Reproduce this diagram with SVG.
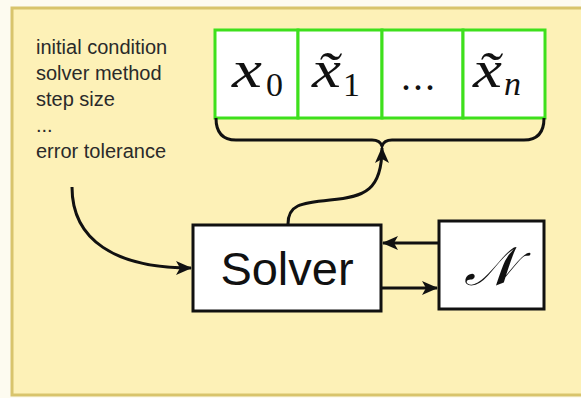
<svg xmlns="http://www.w3.org/2000/svg" width="581" height="398" viewBox="0 0 581 398">
<style>
.bg{fill:#fdf1b7;stroke:#d8c46c;stroke-width:3}
.box{fill:#ffffff;stroke:#111;stroke-width:3}
.cell{fill:#ffffff;stroke:#3ee01c;stroke-width:3}
.lbl{font-family:"Liberation Sans",Arial,sans-serif;font-size:20px;fill:#2a2a2a}
.math{font-family:"Liberation Serif","Times New Roman",serif;fill:#111}
.mx{font-size:52px;font-style:italic}
.sub{font-size:34px}
.conn{fill:none;stroke:#111;stroke-width:3}
</style>
<defs>
<marker id="ah" viewBox="0 0 16 14" refX="15" refY="7" markerWidth="16" markerHeight="14" markerUnits="userSpaceOnUse" orient="auto">
<path d="M0,0 L16,7 L0,14 L4,7 Z" fill="#111"/>
</marker>
</defs>
<rect width="581" height="398" fill="#fdfbf0"/>
<rect class="bg" x="12" y="8" width="590" height="387"/>
<g id="params">
<text class="lbl" x="36" y="54">initial condition</text>
<text class="lbl" x="36" y="80">solver method</text>
<text class="lbl" x="36" y="106">step size</text>
<text class="lbl" x="36" y="132">...</text>
<text class="lbl" x="36" y="158">error tolerance</text>
</g>
<g id="trajectory">
<rect class="cell" x="215" y="30" width="83" height="88"/>
<rect class="cell" x="298" y="30" width="84" height="88"/>
<rect class="cell" x="382" y="30" width="81" height="88"/>
<rect class="cell" x="463" y="30" width="82" height="88"/>
<text class="math" x="232" y="87"><tspan class="mx" textLength="30" lengthAdjust="spacingAndGlyphs">x</tspan><tspan class="sub" x="266" y="96">0</tspan></text>
<text class="math" x="312" y="87"><tspan class="mx" textLength="29" lengthAdjust="spacingAndGlyphs">x̃</tspan><tspan class="sub" x="343" y="96">1</tspan></text>
<text class="math" x="419" y="90" font-size="40" letter-spacing="2" text-anchor="middle">...</text>
<text class="math" x="473" y="87"><tspan class="mx" textLength="29" lengthAdjust="spacingAndGlyphs">x̃</tspan><tspan class="sub" x="504" y="95" font-style="italic">n</tspan></text>
</g>
<g id="brace">
<path class="conn" d="M216,118 Q216,140 236,140 L372,140 Q380,140 382,146 Q384,140 392,140 L524,140 Q544,140 544,118"/>
</g>
<g id="solver">
<rect class="box" x="193" y="225" width="188" height="86"/>
<text x="287" y="285" text-anchor="middle" font-family="Liberation Sans, Arial, sans-serif" font-size="47" fill="#111">Solver</text>
</g>
<g id="network">
<rect class="box" x="439" y="221" width="105" height="88"/>
<text class="math" x="490" y="285" font-size="54" font-style="italic" text-anchor="middle">𝒩</text>
</g>
<g id="connectors">
<path class="conn" d="M72,187 C72,240 115,268 191,268" marker-end="url(#ah)"/>
<path class="conn" d="M288,224 C288,205 300,203 330,200 C365,197 382,190 382,148" marker-end="url(#ah)"/>
<path class="conn" d="M439,243 L383,243" marker-end="url(#ah)"/>
<path class="conn" d="M381,288 L437,288" marker-end="url(#ah)"/>
</g>
</svg>
